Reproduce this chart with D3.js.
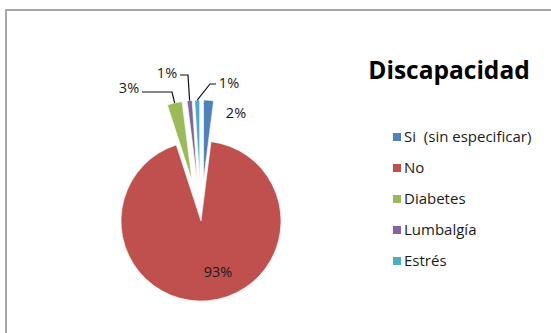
<!DOCTYPE html>
<html>
<head>
<meta charset="utf-8">
<script src="https://cdn.jsdelivr.net/npm/d3@7"></script>
<style>
  body { margin: 0; background: #fff; }
  svg { display: block; font-family: "Open Sans", "Noto Sans", sans-serif; }
  text { white-space: pre; }
</style>
</head>
<body>
<div id="chart"></div>
<script>
    // data
    var categories = ["Si  (sin especificar)", "No", "Diabetes", "Lumbalgía", "Estrés"];
    var values = [2, 93, 3, 1, 1];
    var labels = ["2%", "93%", "3%", "1%", "1%"];
    var colors = ["#4F81BD", "#C0504D", "#9BBB59", "#8064A2", "#4BACC6"];

    var width = 551, height = 333;
    var cx = 201, cy = 221, radius = 80;
    var explode = [41, 0, 41, 41, 41];

    // label placement (text centre) and leader elbow, null = no leader
    var labelPos = [[236, 113], [218, 272], [129, 88], [167, 73], [229, 83]];
    var elbows = [null, null, [172, 92], [188, 75], [210, 84]];

    var svg = d3.select("#chart").append("svg")
        .attr("width", width)
        .attr("height", height);

    // chart area border (top + left visible)
    svg.append("path")
        .attr("d", "M6,333 L6,10 L551,10")
        .attr("fill", "none")
        .attr("stroke", "#a6a6a6")
        .attr("stroke-width", 2);

    var pie = d3.pie().sort(null).value(function (d) { return d; });
    var arcs = pie(values);
    var arc = d3.arc().innerRadius(0).outerRadius(radius);

    var g = svg.append("g").attr("transform", "translate(" + cx + "," + cy + ")");

    function offset(d, i) {
        var a = (d.startAngle + d.endAngle) / 2;
        return [Math.sin(a) * explode[i], -Math.cos(a) * explode[i]];
    }

    g.selectAll("path.slice")
        .data(arcs)
        .enter()
        .append("path")
        .attr("class", "slice")
        .attr("d", arc)
        .attr("fill", function (d, i) { return colors[i]; })
        .attr("stroke", "#fff")
        .attr("stroke-width", 0.6)
        .attr("transform", function (d, i) {
            var o = offset(d, i);
            return "translate(" + o[0] + "," + o[1] + ")";
        });

    // leader lines
    arcs.forEach(function (d, i) {
        if (!elbows[i]) return;
        var a = (d.startAngle + d.endAngle) / 2;
        var o = offset(d, i);
        var ex = cx + o[0] + Math.sin(a) * radius;
        var ey = cy + o[1] - Math.cos(a) * radius;
        var lp = labelPos[i];
        var startX = lp[0] < elbows[i][0] ? lp[0] + 13 : lp[0] - 13;
        svg.append("polyline")
            .attr("points", [[startX, elbows[i][1]], elbows[i], [ex, ey]].map(function (p) { return p.join(","); }).join(" "))
            .attr("fill", "none")
            .attr("stroke", "#111")
            .attr("stroke-width", 1.2);
    });

    svg.selectAll("text.pct")
        .data(labels)
        .enter()
        .append("text")
        .attr("class", "pct")
        .attr("x", function (d, i) { return labelPos[i][0]; })
        .attr("y", function (d, i) { return labelPos[i][1]; })
        .attr("dy", "0.35em")
        .attr("text-anchor", "middle")
        .style("font-size", "14.5px")
        .attr("fill", "#1a1a1a")
        .text(function (d) { return d; });

    // title
    svg.append("text")
        .attr("x", 449)
        .attr("y", 79)
        .attr("text-anchor", "middle")
        .style("font-size", "24.5px")
        .style("font-weight", "bold")
        .attr("fill", "#000")
        .text("Discapacidad");

    // legend
    var legend = svg.selectAll("g.legend")
        .data(categories)
        .enter()
        .append("g")
        .attr("class", "legend")
        .attr("transform", function (d, i) { return "translate(393," + (137 + i * 31) + ")"; });

    legend.append("rect")
        .attr("x", 0)
        .attr("y", -4)
        .attr("width", 8)
        .attr("height", 8)
        .attr("fill", function (d, i) { return colors[i]; });

    legend.append("text")
        .attr("x", 11)
        .attr("dy", "0.35em")
        .style("font-size", "15px")
        .attr("fill", "#1a1a1a")
        .text(function (d) { return d; });
</script>
</body>
</html>
